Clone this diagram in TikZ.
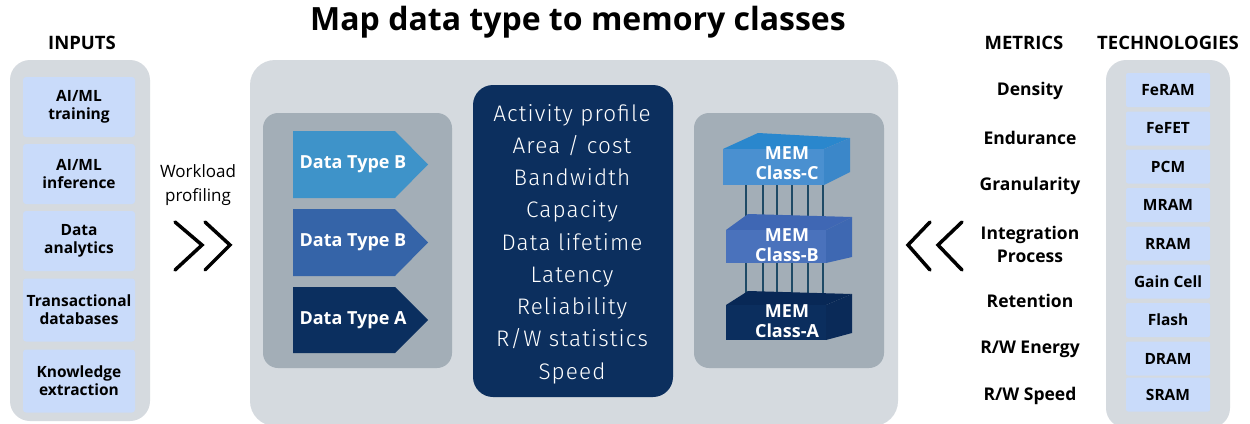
\documentclass[tikz,border=0pt]{standalone}
\usepackage{fontspec}
\setmainfont{Open Sans}
\newfontfamily\lightfont{Fira Sans Light}[LetterSpace=5]

\definecolor{panelgrey}{HTML}{D5DADF}
\definecolor{innergrey}{HTML}{A3AEB7}
\definecolor{navy}{HTML}{0C2F5E}
\definecolor{boxblue}{HTML}{C9DBFA}
\definecolor{typeC}{HTML}{3E93C9}
\definecolor{typeB}{HTML}{3564A8}
\definecolor{typeA}{HTML}{0B2F5F}
\definecolor{rodcol}{HTML}{1E4A66}
\definecolor{memCfront}{HTML}{4A90D0}
\definecolor{memCtop}{HTML}{2A87CD}
\definecolor{memCside}{HTML}{3B87C9}
\definecolor{memBfront}{HTML}{4A72BC}
\definecolor{memBtop}{HTML}{3F67B4}
\definecolor{memBside}{HTML}{3E68B2}
\definecolor{memAfront}{HTML}{0B2E5E}
\definecolor{memAtop}{HTML}{082856}
\definecolor{memAside}{HTML}{0A2A58}

\tikzset{
  inbox/.style={fill=boxblue, rounded corners=3pt, minimum width=112pt, minimum height=60pt, inner sep=0pt, align=center, font=\fontsize{15.5}{18}\selectfont\bfseries},
  techbox/.style={fill=boxblue, rounded corners=2pt, minimum width=84pt, minimum height=34pt, inner sep=0pt, font=\fontsize{15.5}{16}\selectfont\bfseries},
  header/.style={font=\fontsize{18.5}{19}\selectfont\bfseries},
  metric/.style={align=center, font=\fontsize{17.5}{23}\selectfont\bfseries},
  typelabel/.style={text=white, font=\fontsize{18}{20}\selectfont\bfseries},
  memlabel/.style={text=white, align=center, font=\fontsize{18}{19.5}\selectfont\bfseries},
  chevron/.style={line width=3.5pt, line cap=round}
}

\begin{document}
\begin{tikzpicture}[x=1pt, y=-1pt]
        \useasboundingbox[fill=white] (0,0) rectangle (1250,423);

        % --- Title and headers ---
        \node[font=\fontsize{32}{34}\selectfont\bfseries] (title) at (578,22) {Map data type to memory classes};
        \node[header] (hinputs) at (82,43) {INPUTS};
        \node[header] (hmetrics) at (1024,43) {METRICS};
        \node[header] (htech) at (1168,43) {TECHNOLOGIES};
        % ---

        % --- Inputs column ---
        \fill[panelgrey, rounded corners=20pt] (10,60) rectangle (150,421);
        \node[inbox] (train) at (79,107) {AI/ML\\training};
        \node[inbox] (infer) at (79,174) {AI/ML\\inference};
        \node[inbox] (analytics) at (79,241) {Data\\analytics};
        \node[inbox, minimum height=63pt] (trans) at (79,310) {Transactional\\databases};
        \node[inbox, minimum height=63pt] (knowledge) at (79,381) {Knowledge\\extraction};
        % ---

        % --- Workload profiling ---
        \node[align=center, font=\fontsize{17}{24}\selectfont] (profiling) at (198,185) {Workload\\profiling};
        \draw[chevron] (175,222) -- (202,245) -- (175,270);
        \draw[chevron] (205,222) -- (230,245) -- (205,270);
        % ---

        % --- Main panel ---
        \fill[panelgrey, rounded corners=25pt] (250,60) rectangle (898,426);
        \fill[innergrey, rounded corners=15pt] (263,113) rectangle (452,368);
        \fill[innergrey, rounded corners=15pt] (694,113) rectangle (884,368);
        \fill[navy, rounded corners=20pt] (473,85) rectangle (673,397);
        % ---

        % --- Data type arrows ---
        \fill[typeC] (293,131) -- (395,131) -- (428,164.5) -- (395,198) -- (293,198) -- cycle;
        \fill[typeB] (293,209) -- (395,209) -- (428,242.5) -- (395,276) -- (293,276) -- cycle;
        \fill[typeA] (293,287) -- (395,287) -- (428,320) -- (395,353) -- (293,353) -- cycle;
        \node[typelabel] (typeone) at (353,164.5) {Data Type B};
        \node[typelabel] (typetwo) at (353,242.5) {Data Type B};
        \node[typelabel] (typethree) at (353,320) {Data Type A};
        % ---

        % --- Profile list ---
        \node[text=white, align=center, font=\lightfont\fontsize{22.5}{32.25}\selectfont] (profile) at (572,244)
            {Activity profile\\Area / cost\\Bandwidth\\Capacity\\Data lifetime\\Latency\\Reliability\\R/W statistics\\Speed};
        % ---

        % --- Memory class stack ---
        \draw[rodcol, line width=2pt]
            (746,180) -- (746,228) (763,180) -- (763,228) (777,180) -- (777,228)
            (792,180) -- (792,228) (808,180) -- (808,228) (823,180) -- (823,228)
            (746,258) -- (746,302) (763,258) -- (763,302) (777,258) -- (777,302)
            (792,258) -- (792,302) (808,258) -- (808,302) (823,258) -- (823,302);
        \fill[memCtop] (723,149) -- (758,133) -- (850,138) -- (824,149) -- cycle;
        \fill[memCside] (824,149) -- (850,138) -- (850,172) -- (824,185) -- cycle;
        \fill[memCfront] (723,149) rectangle (824,185);
        \fill[memBtop] (726,230) -- (748,214) -- (852,217) -- (826,230) -- cycle;
        \fill[memBside] (826,230) -- (852,217) -- (852,257) -- (826,263) -- cycle;
        \fill[memBfront] (726,230) rectangle (826,263);
        \fill[memAtop] (726,305) -- (748,291) -- (852,294) -- (826,305) -- cycle;
        \fill[memAside] (826,305) -- (852,294) -- (852,333) -- (826,340) -- cycle;
        \fill[memAfront] (726,305) rectangle (826,340);
        \node[memlabel] (memc) at (787,163) {MEM\\Class-C};
        \node[memlabel] (memb) at (787,245) {MEM\\Class-B};
        \node[memlabel] (mema) at (787,321) {MEM\\Class-A};
        % ---

        % --- Metrics ---
        \draw[chevron] (930,222) -- (908,245) -- (930,270);
        \draw[chevron] (962,222) -- (938,245) -- (962,270);
        \node[metric] (density) at (1030,91) {Density};
        \node[metric] (endurance) at (1030,138) {Endurance};
        \node[metric] (granularity) at (1030,186) {Granularity};
        \node[metric] (integration) at (1030,244.5) {Integration\\Process};
        \node[metric] (retention) at (1030,301) {Retention};
        \node[metric] (energy) at (1030,349) {R/W Energy};
        \node[metric] (speed) at (1030,396) {R/W Speed};
        % ---

        % --- Technologies column ---
        \fill[panelgrey, rounded corners=20pt] (1106,60) rectangle (1230,428);
        \node[techbox] (feram) at (1168,90) {FeRAM};
        \node[techbox] (fefet) at (1168,128.5) {FeFET};
        \node[techbox] (pcm) at (1168,166.5) {PCM};
        \node[techbox] (mram) at (1168,205) {MRAM};
        \node[techbox] (rram) at (1168,243.5) {RRAM};
        \node[techbox] (gaincell) at (1168,281.5) {Gain Cell};
        \node[techbox] (flash) at (1168,320) {Flash};
        \node[techbox] (dram) at (1168,358.5) {DRAM};
        \node[techbox] (sram) at (1168,394.5) {SRAM};
        % ---
    \end{tikzpicture}
\end{document}
